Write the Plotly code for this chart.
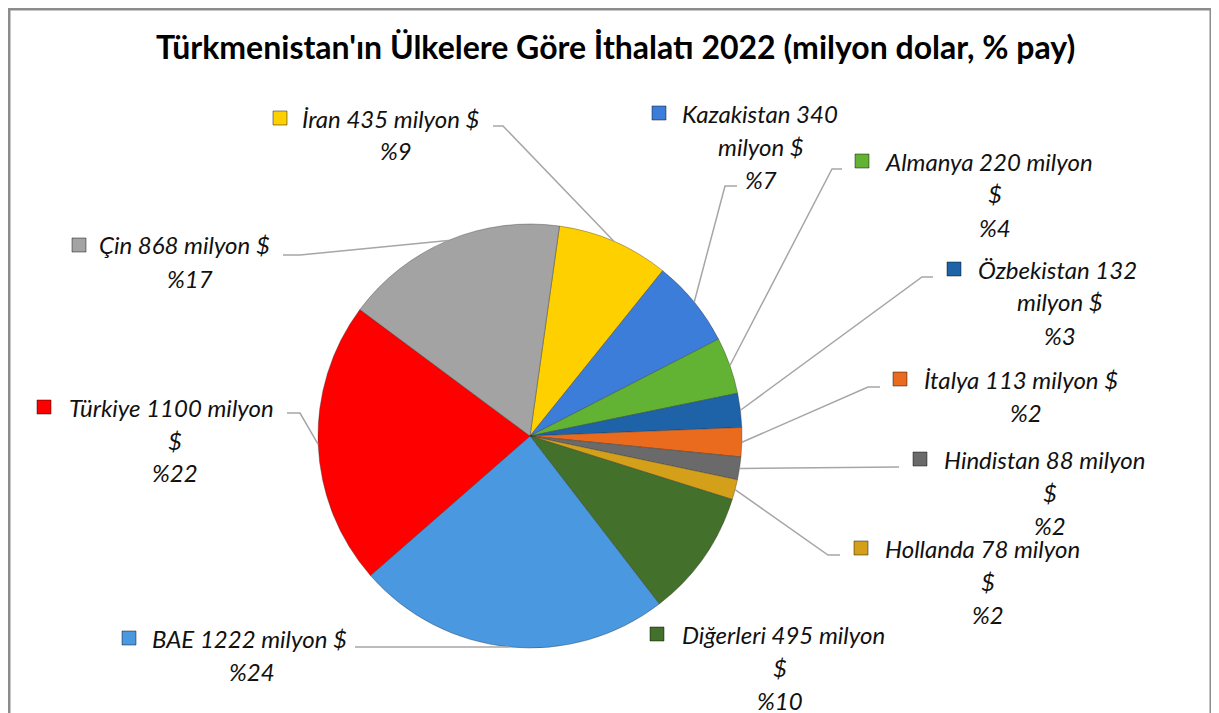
import math
import plotly.graph_objects as go

# ---------------- data ----------------
countries = ["İran", "Kazakistan", "Almanya", "Özbekistan", "İtalya", "Hindistan",
             "Hollanda", "Diğerleri", "BAE", "Türkiye", "Çin"]
values = [435, 340, 220, 132, 113, 88, 78, 495, 1222, 1100, 868]
unit = "milyon $"
title_text = "Türkmenistan'ın Ülkelere Göre İthalatı 2022 (milyon dolar, % pay)"

# ---------------- style / layout ----------------
colors = ["#FFD000", "#3C7DD9", "#62B234", "#1E62A8", "#EA6A1E", "#6A6A6A",
          "#D5A019", "#43702A", "#4A98E0", "#FF0000", "#A3A3A3"]
WIN_W, WIN_H = 1219, 713
OFF = 8  # page body margin
W, H = WIN_W - OFF, WIN_H - OFF
CX, CY, R = 530, 436, 212
ROT = 8  # degrees clockwise from 12 o'clock

# words on the first label line
wrap_words = [4, 2, 3, 2, 4, 3, 3, 3, 4, 3, 4]
# label placement (screen pixels): first-line left x, first-line y, centre x of later lines, marker x
label_left = [300, 680, 883, 976, 922, 942, 883, 680, 150, 67, 97]
label_y = [118, 113, 161, 269, 379, 459, 548, 634, 638, 407, 245]
label_cx = [396, 761, 995, 1060, 1026, 1050, 988, 780, 252, 175, 190]
marker_x = [273, 652, 855, 947, 893, 913, 854, 650, 122, 37, 72]
# leader line start and knee (pixels); None = no leader
leader = [((493, 126), (503, 126)), ((737, 186), (725, 186)), ((842, 169), (832, 169)),
          ((933, 277), (922, 277)), ((880, 387), (868, 387)), ((899, 467), (899, 467)),
          ((840, 555), (828, 555)), None, ((355, 647), (355, 647)),
          ((287, 413), (300, 413)), ((283, 255), (300, 255))]
LINE_GAP = 33
FONT = "Lato"
LABEL_SIZE = 24
TITLE_SIZE = 32


def px(x):
    return (x - OFF) / W


def py(y):
    return 1 - (y - OFF) / H


total = sum(values)

fig = go.Figure()
fig.add_trace(go.Pie(
    labels=countries, values=values, sort=False, direction="clockwise", rotation=ROT,
    marker=dict(colors=colors, line=dict(color="rgba(40,40,40,0.35)", width=1)),
    textinfo="none", showlegend=False,
    domain=dict(x=[px(CX - R), px(CX + R)], y=[py(CY + R), py(CY - R)]),
))

annotations = []
shapes = []

# title
annotations.append(dict(x=px(615), y=py(47), xref="paper", yref="paper", showarrow=False,
                        text="<b>" + title_text + "</b>",
                        font=dict(family=FONT, size=TITLE_SIZE, color="#000000"),
                        xanchor="center", yanchor="middle"))

cum = 0
for i, (name, val) in enumerate(zip(countries, values)):
    mid_deg = ROT + (cum + val / 2) / total * 360
    cum += val
    words = f"{name} {val} {unit}".split(" ")
    pct = f"%{round(val / total * 100)}"
    lines = [" ".join(words[:wrap_words[i]])]
    rest = " ".join(words[wrap_words[i]:])
    if rest:
        lines.append(rest)
    lines.append(pct)
    for j, ln in enumerate(lines):
        y = label_y[i] + j * LINE_GAP
        first = j == 0
        annotations.append(dict(x=px(label_left[i] if first else label_cx[i]), y=py(y),
                                xref="paper", yref="paper", showarrow=False,
                                text="<i>" + ln + "</i>",
                                font=dict(family=FONT, size=LABEL_SIZE, color="#111111"),
                                xanchor="left" if first else "center", yanchor="middle"))
    # legend key square
    mx, my = marker_x[i], label_y[i]
    shapes.append(dict(type="rect", xref="paper", yref="paper",
                       x0=px(mx), x1=px(mx + 14), y0=py(my + 7), y1=py(my - 7),
                       fillcolor=colors[i], line=dict(color="rgba(0,0,0,0.45)", width=1)))
    # leader line
    if leader[i] is not None:
        (sx, sy), (kx, ky) = leader[i]
        a = math.radians(mid_deg)
        ex, ey = CX + R * math.sin(a), CY - R * math.cos(a)
        path = f"M {px(sx)} {py(sy)} L {px(kx)} {py(ky)} L {px(ex)} {py(ey)}"
        shapes.append(dict(type="path", xref="paper", yref="paper", path=path,
                           line=dict(color="#A6A6A6", width=1.5)))

# outer frame
shapes.append(dict(type="rect", xref="paper", yref="paper",
                   x0=px(9), x1=px(1211), y0=-0.05, y1=py(9),
                   line=dict(color="#8C8C8C", width=3), fillcolor="rgba(0,0,0,0)", layer="below"))

fig.update_layout(width=W, height=H, margin=dict(l=0, r=0, t=0, b=0),
                  paper_bgcolor="white", plot_bgcolor="white",
                  annotations=annotations, shapes=shapes)

fig.write_html("out.html")
